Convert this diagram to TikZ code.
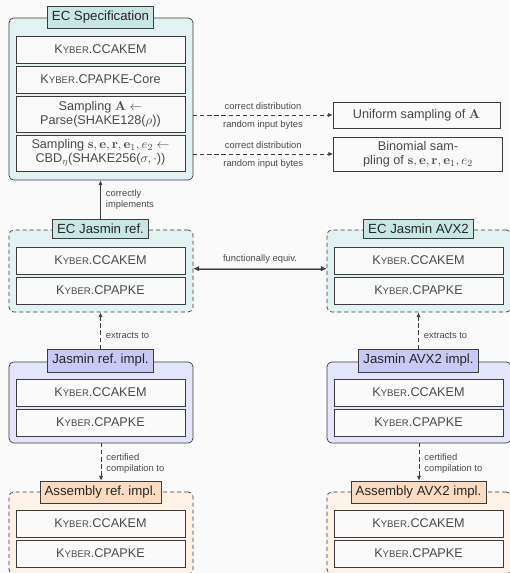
\documentclass[tikz,border=0pt]{standalone}
\usepackage[no-math]{fontspec}
\setmainfont{Liberation Sans}
\usepackage{amsmath}
\usetikzlibrary{positioning, arrows.meta, calc}
\definecolor{bggray}{HTML}{FAFAFA}
\definecolor{spectea}{HTML}{E2F1F1}
\definecolor{spectitle}{HTML}{C8E6E3}
\definecolor{jasfill}{HTML}{E5E5FB}
\definecolor{jastitle}{HTML}{C9C9F6}
\definecolor{asmfill}{HTML}{FFF2E6}
\definecolor{asmtitle}{HTML}{FBDCC2}
\definecolor{linegray}{HTML}{3C3C3C}
\definecolor{textgray}{HTML}{4A4A4A}
\newcommand{\kyb}{K{\fontsize{8.2}{9}\selectfont YBER}}

\begin{document}
\begin{tikzpicture}[x=0.03cm, y=-0.03cm, line width=0.6pt,
	every node/.style={font=\fontsize{10.8}{12}\selectfont, text=textgray},
	box/.style={draw=linegray, fill=bggray, minimum width=5.07cm, minimum height=0.81cm, inner sep=1pt, align=center},
	tallbox/.style={box, minimum height=1.08cm},
	frame/.style={draw=linegray, rounded corners=4pt, minimum width=5.52cm},
	title/.style={draw=linegray, font=\fontsize{11.3}{13}\selectfont, text=black!85, inner xsep=4pt, inner ysep=0pt},
	lbl/.style={font=\fontsize{8}{9.4}\selectfont, text=textgray, align=left},
	dsh/.style={dash pattern=on 3.5pt off 2.5pt},
	arr/.style={-{Latex[length=4pt,width=3.5pt]}, draw=linegray},
	]
	\fill[bggray] (0,0) rectangle (509,573);
	\useasboundingbox (0,0) rectangle (509,573);
	
	\node[frame, fill=spectea, minimum height=4.86cm] (spec) at (101,99) {};
	\node[box] (speckem) at (100.5,49.5) {\kyb.CCAKEM};
	\node[box] (specpke) at (100.5,79.5) {\kyb.CPAPKE-Core};
	\node[tallbox] (sampa) at (100.5,114) {Sampling $\mathbf{A}$ $\leftarrow$\\Parse(SHAKE128($\rho$))};
	\node[tallbox] (samps) at (100.5,153) {Sampling $\mathbf{s},\mathbf{e},\mathbf{r},\mathbf{e}_1,e_2\leftarrow$\\CBD$_\eta$(SHAKE256($\sigma,\cdot$))};
	\node[title, fill=spectitle, minimum height=0.66cm] (spect) at (100.5,17) {EC Specification};
	
	\node[box, minimum width=5.01cm, minimum height=0.78cm] (unif) at (416.5,115) {Uniform sampling of $\mathbf{A}$};
	\node[box, minimum height=1.02cm] (binom) at (418,154) {Binomial sam-\\pling of $\mathbf{s},\mathbf{e},\mathbf{r},\mathbf{e}_1,e_2$};
	
	\draw[arr, dsh] (spec.east |- unif.west) -- (unif.west)
		node[lbl, midway, above=1pt] (corra) {correct distribution}
		node[lbl, midway, below=1pt] (randa) {random input bytes};
	\draw[arr, dsh] (spec.east |- binom.west) -- (binom.west)
		node[lbl, midway, above=1pt] (corrs) {correct distribution}
		node[lbl, midway, below=1pt] (rands) {random input bytes};
	
	\foreach \c/\x/\t in {ref/101/ref., avx/419/AVX2}{
		\node[frame, dsh, fill=spectea, minimum height=2.46cm] (ec\c) at (\x,271) {};
		\node[box] (eckem\c) at (\x-0.5,260.5) {\kyb.CCAKEM};
		\node[box] (ecpke\c) at (\x-0.5,290.5) {\kyb.CPAPKE};
		\node[title, fill=spectitle, minimum height=0.57cm] (ect\c) at (\x-0.5,229) {EC Jasmin \t};
		
		\node[frame, fill=jasfill, minimum height=2.43cm] (jas\c) at (\x,402.5) {};
		\node[box] (jaskem\c) at (\x-0.5,392.5) {\kyb.CCAKEM};
		\node[box] (jaspke\c) at (\x-0.5,422.5) {\kyb.CPAPKE};
		\node[title, fill=jastitle, minimum height=0.69cm] (jast\c) at (\x-0.5,360.5) {Jasmin \t\ impl.};
		
		\node[frame, dsh, fill=asmfill, minimum height=2.46cm] (asm\c) at (\x,533) {};
		\node[box] (asmkem\c) at (\x-0.5,523.5) {\kyb.CCAKEM};
		\node[box] (asmpke\c) at (\x-0.5,553.5) {\kyb.CPAPKE};
		\node[title, fill=asmtitle, minimum height=0.66cm] (asmt\c) at (\x-0.5,492) {Assembly \t\ impl.};
		
		\draw[arr, dsh] (jast\c.north) -- (jast\c.north |- ec\c.south)
			node[lbl, pos=0.35, right=1pt] (ext\c) {extracts to};
		\draw[arr, dsh] (jas\c.south) -- (jas\c.south |- asmt\c.north)
			node[lbl, pos=0.55, right=1pt] (cert\c) {certified\\compilation to};
	}
	
	\draw[arr] (ectref.north) -- (ectref.north |- spec.south)
		node[lbl, midway, right=1pt] (impl) {correctly\\implements};
	\draw[{Latex[length=5pt,width=4.5pt]}-{Latex[length=5pt,width=4.5pt]}, draw=linegray, double=black!40, double distance=1pt, line width=0.45pt] ([yshift=2pt]ecref.east) -- ([yshift=2pt]ecavx.west)
		node[lbl, midway, above=1pt] (feq) {functionally equiv.};
\end{tikzpicture}
\end{document}
